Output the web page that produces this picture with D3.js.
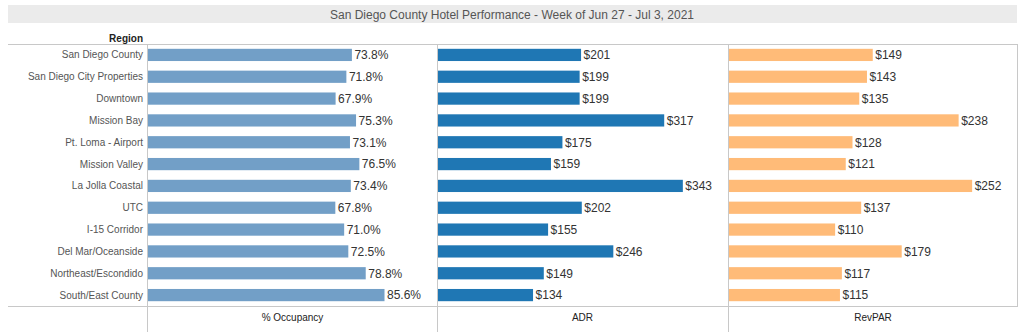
<!DOCTYPE html>
<html>
<head>
<meta charset="utf-8">
<script src="https://cdn.jsdelivr.net/npm/d3@7"></script>
<style>
  body { margin: 0; background: #fff; }
  svg { display: block; font-family: "Liberation Sans", Arial, sans-serif; }
</style>
</head>
<body>
<div id="chart"></div>
<script>
var regions = ["San Diego County", "San Diego City Properties", "Downtown", "Mission Bay",
  "Pt. Loma - Airport", "Mission Valley", "La Jolla Coastal", "UTC", "I-15 Corridor",
  "Del Mar/Oceanside", "Northeast/Escondido", "South/East County"]
var occupancy = [73.8, 71.8, 67.9, 75.3, 73.1, 76.5, 73.4, 67.8, 71.0, 72.5, 78.8, 85.6]
var adr = [201, 199, 199, 317, 175, 159, 343, 202, 155, 246, 149, 134]
var revpar = [149, 143, 135, 238, 128, 121, 252, 137, 110, 179, 117, 115]
var measures = ["% Occupancy", "ADR", "RevPAR"]

var width = 1024, height = 332

var svg = d3.select('#chart').append("svg")
    .attr("width", width)
    .attr("height", height)

// title band
svg.append("rect")
    .attr("x", 8).attr("y", 5).attr("width", 1009).attr("height", 18)
    .attr("fill", "#ebebeb")
svg.append("text")
    .attr("x", 512).attr("y", 18.5)
    .attr("text-anchor", "middle")
    .attr("font-size", 12)
    .attr("fill", "#555")
    .text("San Diego County Hotel Performance - Week of Jun 27 - Jul 3, 2021")

svg.append("text")
    .attr("x", 143).attr("y", 42)
    .attr("text-anchor", "end")
    .attr("font-size", 10)
    .attr("font-weight", "bold")
    .attr("fill", "#222")
    .text("Region")

var plotTop = 44, plotBottom = 306

var y = d3.scaleBand()
    .domain(regions)
    .range([plotTop, plotBottom])
    .paddingInner(0.44)
    .paddingOuter(0.22)

var panes = [
  {name: measures[0], values: occupancy, x0: 148, x1: 437, max: 104.6, color: "#729fc7", fmt: function(v) { return v.toFixed(1) + "%" }},
  {name: measures[1], values: adr, x0: 437, x1: 728, max: 406, color: "#1f77b4", fmt: function(v) { return "$" + v }},
  {name: measures[2], values: revpar, x0: 729, x1: 1017, max: 298.5, color: "#ffbb78", fmt: function(v) { return "$" + v }}
]

// row labels
svg.append("g").selectAll("text")
    .data(regions)
  .enter().append("text")
    .attr("x", 143)
    .attr("y", function(d) { return y(d) + y.bandwidth() / 2 })
    .attr("dy", "0.35em")
    .attr("text-anchor", "end")
    .attr("font-size", 10)
    .attr("fill", "#555")
    .text(function(d) { return d })

panes.forEach(function(p) {
  var x = d3.scaleLinear().domain([0, p.max]).range([p.x0, p.x1])
  var g = svg.append("g")

  g.selectAll("rect")
      .data(p.values)
    .enter().append("rect")
      .attr("x", x(0))
      .attr("y", function(d, i) { return y(regions[i]) })
      .attr("width", function(d) { return x(d) - x(0) })
      .attr("height", y.bandwidth())
      .attr("fill", p.color)

  g.selectAll("text.val")
      .data(p.values)
    .enter().append("text")
      .attr("class", "val")
      .attr("x", function(d) { return x(d) + 2.5 })
      .attr("y", function(d, i) { return y(regions[i]) + y.bandwidth() / 2 })
      .attr("dy", "0.36em")
      .attr("font-size", 12)
      .attr("fill", "#333")
      .text(p.fmt)

  svg.append("text")
      .attr("x", (p.x0 + p.x1) / 2)
      .attr("y", 321)
      .attr("text-anchor", "middle")
      .attr("font-size", 10)
      .attr("fill", "#222")
      .text(p.name)
})

// grid lines
var lines = svg.append("g").attr("stroke", "#c8c8c8").attr("stroke-width", 1)
lines.append("line").attr("x1", 8).attr("x2", 1018).attr("y1", plotTop + 0.5).attr("y2", plotTop + 0.5)
lines.append("line").attr("x1", 8).attr("x2", 1018).attr("y1", plotBottom + 0.5).attr("y2", plotBottom + 0.5)
;[147, 437, 728].forEach(function(xv) {
  lines.append("line").attr("x1", xv + 0.5).attr("x2", xv + 0.5).attr("y1", plotTop).attr("y2", height)
})
lines.append("line").attr("x1", 1017.5).attr("x2", 1017.5).attr("y1", plotTop).attr("y2", plotBottom)
</script>
</body>
</html>
